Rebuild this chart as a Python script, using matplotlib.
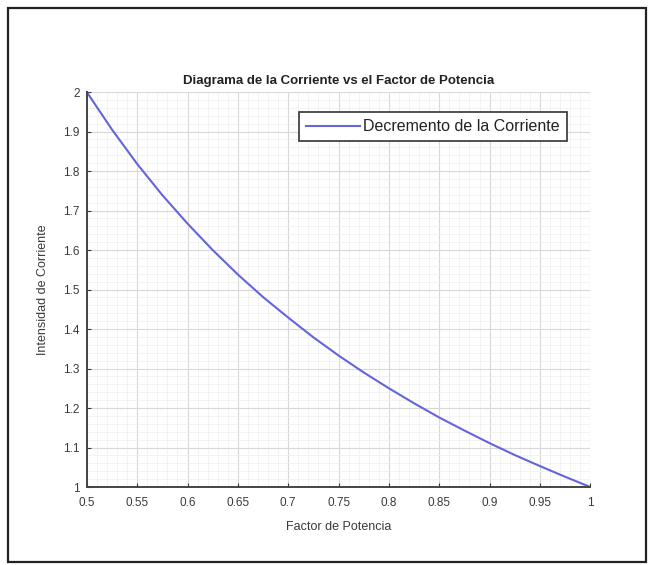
import matplotlib.pyplot as plt
from matplotlib.patches import Rectangle
from matplotlib.ticker import MultipleLocator

plt.rcParams['font.family'] = ['Liberation Sans', 'DejaVu Sans']

factor_potencia = [0.5, 0.525, 0.55, 0.575, 0.6, 0.625, 0.65, 0.675, 0.7, 0.725, 0.75,
                   0.775, 0.8, 0.825, 0.85, 0.875, 0.9, 0.925, 0.95, 0.975, 1.0]
corriente = [2.0, 1.905, 1.818, 1.739, 1.667, 1.6, 1.538, 1.481, 1.429, 1.379, 1.333,
             1.29, 1.25, 1.212, 1.176, 1.143, 1.111, 1.081, 1.053, 1.026, 1.0]

x_ticks = [0.5, 0.55, 0.6, 0.65, 0.7, 0.75, 0.8, 0.85, 0.9, 0.95, 1]
x_tick_labels = ['0.5', '0.55', '0.6', '0.65', '0.7', '0.75', '0.8', '0.85', '0.9', '0.95', '1']
y_ticks = [1, 1.1, 1.2, 1.3, 1.4, 1.5, 1.6, 1.7, 1.8, 1.9, 2]
y_tick_labels = ['1', '1.1', '1.2', '1.3', '1.4', '1.5', '1.6', '1.7', '1.8', '1.9', '2']

text_color = '#3a3a3a'

fig = plt.figure(figsize=(6.48, 5.65), dpi=100)
fig.patches.append(Rectangle((0.012, 0.005), 0.985, 0.98, transform=fig.transFigure,
                             fill=False, edgecolor='#222222', linewidth=1.6))

ax = fig.add_axes([0.134, 0.138, 0.777, 0.699])
ax.plot(factor_potencia, corriente, color='#6464dc', linewidth=1.5,
        label='Decremento de la Corriente')

ax.set_xlim(0.5, 1)
ax.set_ylim(1, 2)
ax.set_xticks(x_ticks)
ax.set_xticklabels(x_tick_labels)
ax.set_yticks(y_ticks)
ax.set_yticklabels(y_tick_labels)
ax.xaxis.set_minor_locator(MultipleLocator(0.01))
ax.yaxis.set_minor_locator(MultipleLocator(0.02))
ax.grid(which='major', color='#d8d8d8', linewidth=0.8)
ax.grid(which='minor', color='#efefef', linewidth=0.5)
ax.set_axisbelow(True)

for side in ['top', 'right']:
    ax.spines[side].set_visible(False)
for side in ['left', 'bottom']:
    ax.spines[side].set_color('#444444')
    ax.spines[side].set_linewidth(1.4)

ax.tick_params(which='major', colors=text_color, labelsize=8.5, length=3, direction='in')
ax.tick_params(axis='x', which='major', pad=7)
ax.tick_params(axis='y', which='major', pad=5)
ax.tick_params(which='minor', length=0)

ax.set_title('Diagrama de la Corriente vs el Factor de Potencia', fontsize=9.5,
             fontweight='bold', color='#222222', pad=6)
ax.set_xlabel('Factor de Potencia', fontsize=9, color=text_color, labelpad=9)
ax.set_ylabel('Intensidad de Corriente', fontsize=9, color=text_color, labelpad=10)

leg = ax.legend(loc='upper right', bbox_to_anchor=(0.97, 0.97), fontsize=11.5,
                fancybox=False, framealpha=1, edgecolor='#333333',
                handlelength=3.4, handletextpad=0.2, borderpad=0.45)
leg.get_frame().set_linewidth(1.2)
for t in leg.get_texts():
    t.set_color('#222222')

fig.savefig('out.png', dpi=100)
